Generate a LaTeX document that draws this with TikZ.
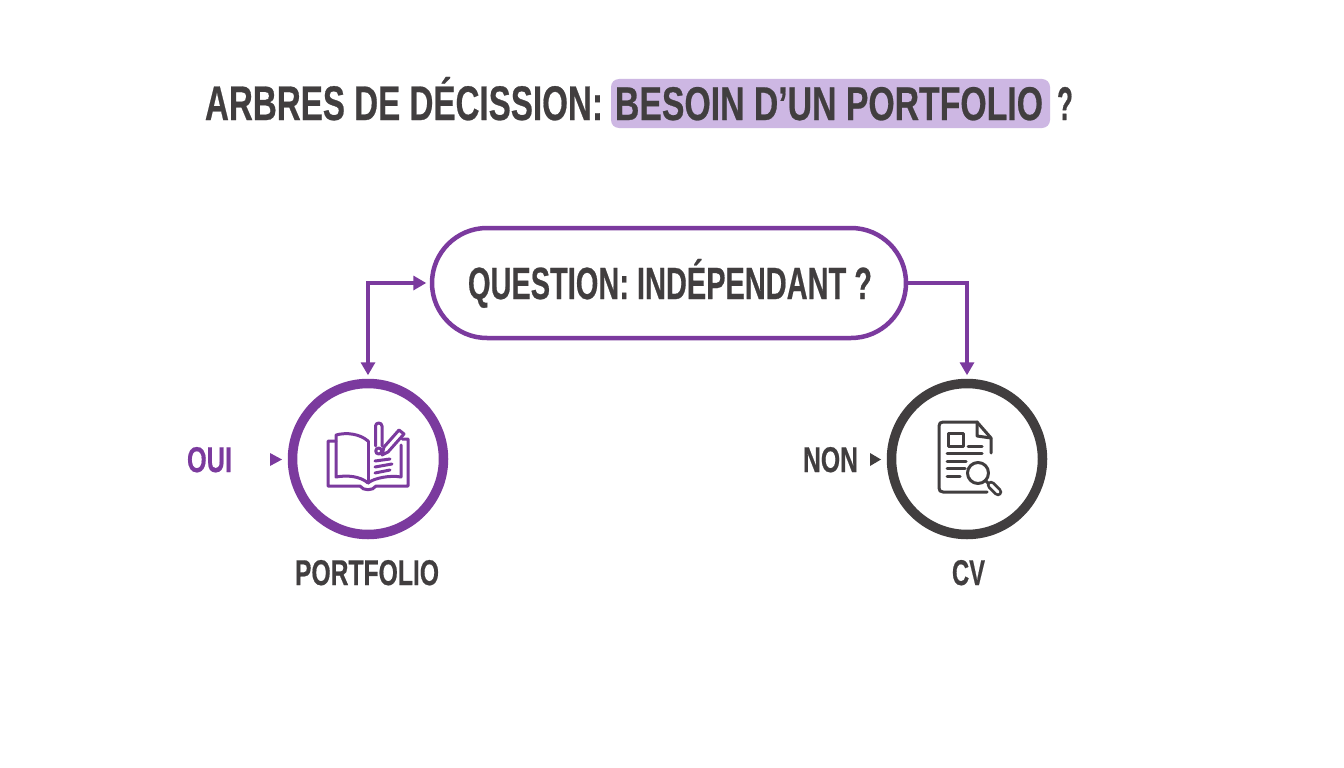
\documentclass[tikz,border=0pt]{standalone}
\usepackage{fontspec}
\usepackage{graphicx}
\setmainfont[BoldFeatures={FakeBold=0.6}]{Liberation Sans}
\usetikzlibrary{arrows.meta,calc}
\definecolor{ink}{HTML}{413E3F}
\definecolor{violet}{HTML}{7B3A9E}
\definecolor{lilac}{HTML}{CDB7E3}
\newcommand{\fit}[3]{\resizebox{#1pt}{#2pt}{\bfseries #3}}
\tikzset{
  word/.style={inner sep=0pt,outer sep=0pt,anchor=base,text=ink},
  ring/.style={circle,draw,line width=9.5pt,minimum size=151pt,inner sep=0pt,outer sep=4.75pt,fill=white},
  pillbox/.style={rounded corners=55pt,draw=violet,line width=4.5pt,minimum width=474pt,minimum height=110pt,inner sep=0pt,outer sep=2.25pt,fill=white},
  link/.style={draw=violet,line width=3.5pt,line join=miter,shorten >=3.5pt,-{Triangle[length=13pt,width=14pt]}},
  glyph/.style={line width=3pt,line cap=round,line join=round},
}
\begin{document}
\begin{tikzpicture}[x=1pt,y=-1pt]
\useasboundingbox (0,0) rectangle (1344,768);
\fill[white] (0,0) rectangle (1344,768);
% title
\fill[lilac,rounded corners=8pt] (611,79) rectangle (1050,128);
\node[word] (t1) at (404,120) {\fit{398}{43}{ARBRES DE DÉCISSION:}};
\node[word] (t2) at (829,120) {\fit{428}{33}{BESOIN D’UN PORTFOLIO}};
\node[word] (t3) at (1065,120) {\fit{16}{33}{?}};
% nodes
\node[pillbox] (q) at (669,283) {};
\node[word] (qt) at (670,299) {\fit{404}{40}{QUESTION: INDÉPENDANT ?}};
\node[ring,draw=violet] (p) at (368,459) {};
\node[ring,draw=ink] (c) at (967,459) {};
% connectors
\draw[link,shorten <=3.5pt,{Triangle[length=13pt,width=14pt]}-{Triangle[length=13pt,width=14pt]}] (q.west) -| (p.north);
\draw[link] (q.east) -| (c.north);
% labels
\node[word,text=violet] (oui) at (209.5,472) {\fit{45}{25}{OUI}};
\node[word] (non) at (830.5,472) {\fit{55}{25}{NON}};
\node[word] (pl) at (367,585) {\fit{144}{25}{PORTFOLIO}};
\node[word] (cl) at (968.5,585) {\fit{33}{25}{CV}};
\fill[violet] (270,453) -- (282,459.5) -- (270,466) -- cycle;
\fill[ink] (870,453) -- (881,459.5) -- (870,466) -- cycle;
% book icon
\begin{scope}[glyph,draw=violet]
  \draw (336,441) -- (328,441) -- (328,486) -- (360,486) .. controls (363,491) and (373,491) .. (376,486) -- (408,486) -- (408,439) -- (402,439);
  \draw (368,441) .. controls (360,434) and (347,432) .. (336,435) -- (336,477) .. controls (347,475) and (360,476) .. (368,483) .. controls (374,478) and (390,475) .. (401,477) -- (401,445);
  \draw (368,441) -- (368,483);
  \draw (375.5,446) -- (375.5,426) .. controls (375.5,422) and (382,422) .. (382,426) -- (382,446);
  \draw (378.7,451) circle (3pt);
  \draw (384,447) -- (399,430) -- (404,434) -- (388,452) -- (382,455) -- cycle;
  \draw (375,461) -- (390,459);
  \draw (375,467) -- (392,464);
  \draw (375,473) -- (390,470);
\end{scope}
% CV icon
\begin{scope}[glyph,draw=ink]
  \draw (987,492) -- (943,492) .. controls (940.5,492) and (939,490.5) .. (939,488) -- (939,426) .. controls (939,423.5) and (940.5,422) .. (943,422) -- (977,422) -- (991,438) -- (991,453);
  \draw (977,422) -- (977,436) -- (991,438);
  \draw (948,433) rectangle (963,446);
  \draw (968,446) -- (982,446);
  \draw (947,453) -- (982,453);
  \draw (947,461) -- (966,461);
  \draw (947,468.5) -- (965,468.5);
  \draw (947,476) -- (960,476);
  \draw (978,473) circle (10.5pt);
  \draw (985.5,480.5) -- (989,484);
  \draw[line width=8.5pt] (991,485) -- (998,492);
  \draw[white,line width=3pt] (991,485) -- (998,492);
\end{scope}
\end{tikzpicture}
\end{document}
